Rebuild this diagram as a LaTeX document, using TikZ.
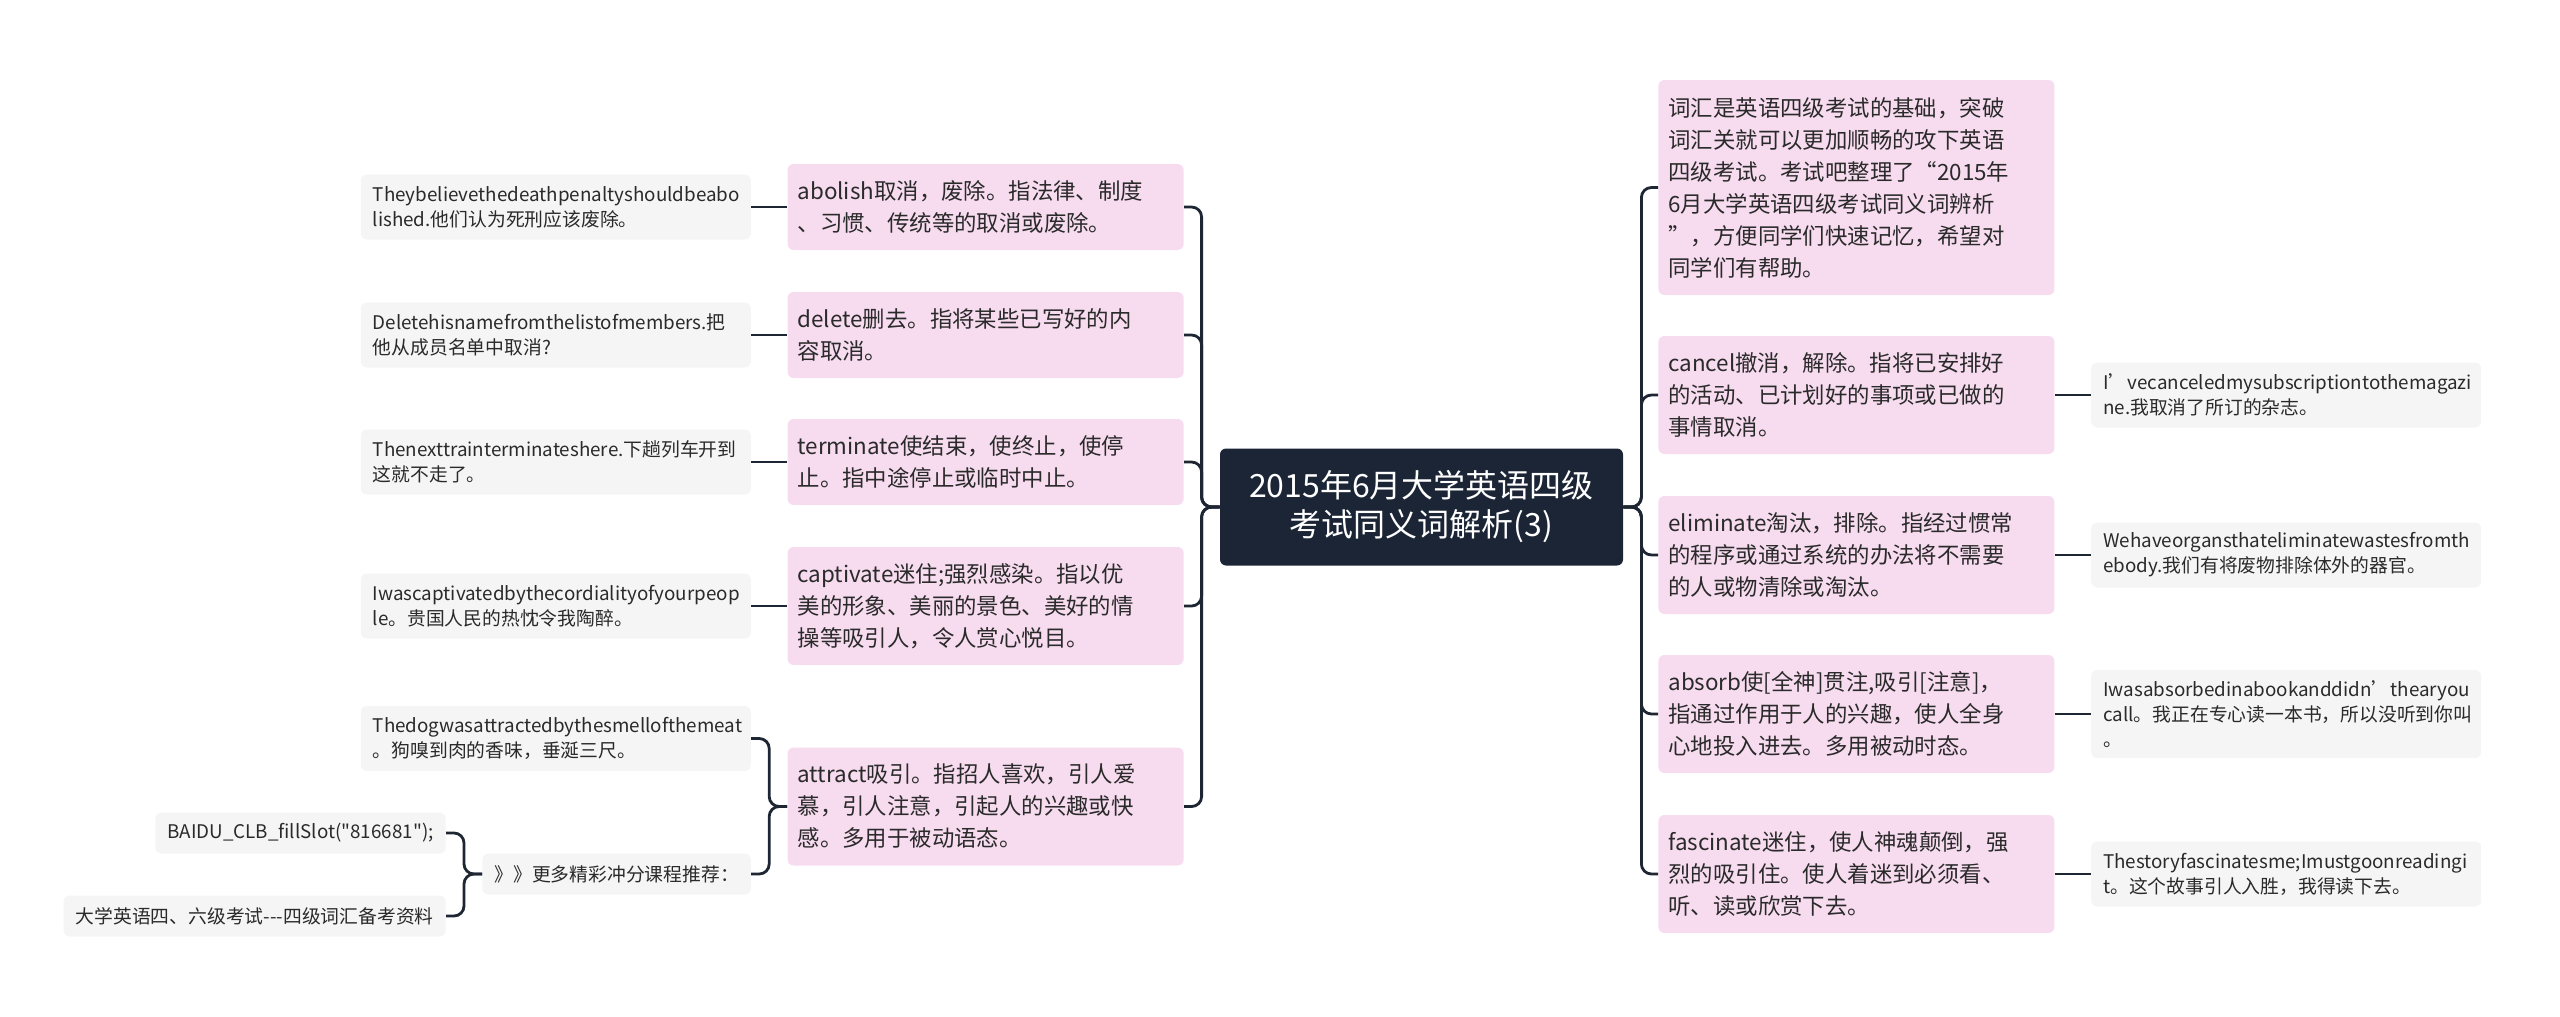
\documentclass[tikz,border=0pt]{standalone}
\usepackage{fontspec}
\setmainfont{Noto Sans CJK SC}
\newfontfamily\codefont{Noto Sans CJK SC}
\usepackage{xcolor}
\usepackage{tikz}
\usetikzlibrary{positioning}
\definecolor{rootfill}{HTML}{1B2535}
\definecolor{wordfill}{HTML}{F7DCF0}
\definecolor{exfill}{HTML}{F5F5F5}
\definecolor{linkcol}{HTML}{1E2634}
\definecolor{txtcol}{HTML}{2A2A2A}
\hyphenpenalty=10000
\exhyphenpenalty=10000

\begin{document}
\begin{tikzpicture}[
      x=0.5pt, y=-0.5pt,
      node distance=18pt,
      topic/.style={fill=rootfill, text=white, rounded corners=3pt, align=center,
                    minimum width=201.5pt, minimum height=58.5pt,
                    font=\fontsize{16}{19.5}\selectfont},
      wordbox/.style={fill=wordfill, text=txtcol, rounded corners=3pt, align=left,
                      text width=188pt, inner xsep=5pt, inner ysep=3pt,
                      minimum height=43pt, font=\fontsize{11.2}{16}\selectfont},
      wordbox3/.style={wordbox, minimum height=59pt},
      exbase/.style={fill=exfill, text=txtcol, rounded corners=3pt, inner xsep=6pt,
                     inner ysep=3pt, font=\fontsize{9.4}{12.5}\selectfont},
      exbox/.style={exbase, align=left, text width=183pt, minimum height=32.5pt},
      notebox/.style={exbase, minimum height=20.5pt},
      link/.style={draw=linkcol, line width=1.4pt, rounded corners=5pt}
    ]
    \useasboundingbox (0,0) rectangle (2560,1017);
    \node[topic] (root) at (1421.5,507) {2015年6月大学英语四级\\考试同义词解析(3)};
    % left side
    \node[wordbox, anchor=east]  (abolish)   at (1184,207)   {abolish取消，废除。指法律、制度\\、习惯、传统等的取消或废除。};
    \node[wordbox, anchor=east]  (delete)    at (1184,335)   {delete删去。指将某些已写好的内\\容取消。};
    \node[wordbox, anchor=east]  (terminate) at (1184,462)   {terminate使结束，使终止，使停\\止。指中途停止或临时中止。};
    \node[wordbox3, anchor=east] (captivate) at (1184,606)   {captivate迷住;强烈感染。指以优\\美的形象、美丽的景色、美好的情\\操等吸引人，令人赏心悦目。};
    \node[wordbox3, anchor=east] (attract)   at (1184,806.5) {attract吸引。指招人喜欢，引人爱\\慕，引人注意，引起人的兴趣或快\\感。多用于被动语态。};
    \node[exbox] (abolish-ex)   [left=of abolish]   {Theybelievethedeathpenaltyshouldbeabo\\lished.他们认为死刑应该废除。};
    \node[exbox] (delete-ex)    [left=of delete]    {Deletehisnamefromthelistofmembers.把\\他从成员名单中取消?};
    \node[exbox] (terminate-ex) [left=of terminate] {Thenexttrainterminateshere.下趟列车开到\\这就不走了。};
    \node[exbox] (captivate-ex) [left=of captivate] {Iwascaptivatedbythecordialityofyourpeop\\le。贵国人民的热忱令我陶醉。};
    \node[exbox] (attract-ex)   [left=of attract, yshift=34pt] {Thedogwasattractedbythesmellofthemeat\\。狗嗅到肉的香味，垂涎三尺。};
    \node[notebox] (more)  [left=of attract, yshift=-33.75pt] {》》更多精彩冲分课程推荐：};
    \node[notebox] (baidu) [left=of more, yshift=20.5pt] {\codefont BAIDU\_CLB\_fillSlot("816681");};
    \node[notebox] (cet)   [left=of more, yshift=-21pt]  {大学英语四、六级考试-{}-{}-四级词汇备考资料};
    % right side
    \node[wordbox, anchor=west, minimum height=107.5pt] (intro) at (1658,187.5) {词汇是英语四级考试的基础，突破\\词汇关就可以更加顺畅的攻下英语\\四级考试。考试吧整理了“2015年\\6月大学英语四级考试同义词辨析\\”，方便同学们快速记忆，希望对\\同学们有帮助。};
    \node[wordbox3, anchor=west] (cancel)    at (1658,395) {cancel撤消，解除。指将已安排好\\的活动、已计划好的事项或已做的\\事情取消。};
    \node[wordbox3, anchor=west] (eliminate) at (1658,555) {eliminate淘汰，排除。指经过惯常\\的程序或通过系统的办法将不需要\\的人或物清除或淘汰。};
    \node[wordbox3, anchor=west] (absorb)    at (1658,714) {absorb使[全神]贯注,吸引[注意]，\\指通过作用于人的兴趣，使人全身\\心地投入进去。多用被动时态。};
    \node[wordbox3, anchor=west] (fascinate) at (1658,874) {fascinate迷住，使人神魂颠倒，强\\烈的吸引住。使人着迷到必须看、\\听、读或欣赏下去。};
    \node[exbox] (cancel-ex)    [right=of cancel]    {I’vecanceledmysubscriptiontothemagazi\\ne.我取消了所订的杂志。};
    \node[exbox] (eliminate-ex) [right=of eliminate] {Wehaveorgansthateliminatewastesfromth\\ebody.我们有将废物排除体外的器官。};
    \node[exbox, minimum height=44pt] (absorb-ex) [right=of absorb] {Iwasabsorbedinabookanddidn’thearyou\\call。我正在专心读一本书，所以没听到你叫\\。};
    \node[exbox] (fascinate-ex) [right=of fascinate] {Thestoryfascinatesme;Imustgoonreadingi\\t。这个故事引人入胜，我得读下去。};
    % connectors
    \foreach \w in {abolish,delete,terminate,captivate,attract}
      \draw[link] (root.west) -- ++(-9pt,0) |- (\w.east);
    \foreach \w in {intro,cancel,eliminate,absorb,fascinate}
      \draw[link] (root.east) -- ++(9pt,0) |- (\w.west);
    \foreach \w in {abolish,delete,terminate,captivate}
      \draw[link] (\w.west) -- (\w-ex.east);
    \foreach \w in {cancel,eliminate,absorb,fascinate}
      \draw[link] (\w.east) -- (\w-ex.west);
    \draw[link] (attract.west) -- ++(-9pt,0) |- (attract-ex.east);
    \draw[link] (attract.west) -- ++(-9pt,0) |- (more.east);
    \draw[link] (more.west) -- ++(-9pt,0) |- (baidu.east);
    \draw[link] (more.west) -- ++(-9pt,0) |- (cet.east);
  \end{tikzpicture}
\end{document}
